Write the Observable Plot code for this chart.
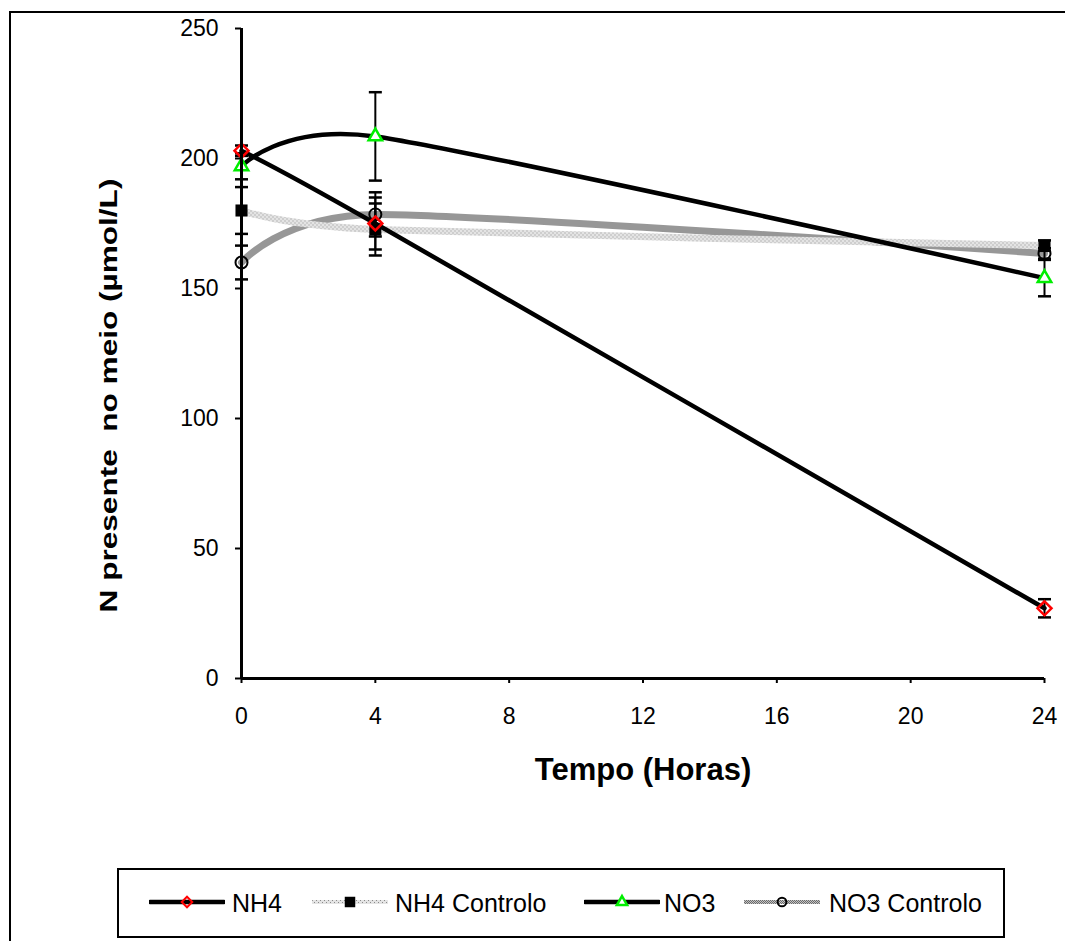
<!DOCTYPE html>
<html>
<head>
<meta charset="utf-8">
<script src="https://cdn.jsdelivr.net/npm/d3@7"></script>
<script src="https://cdn.jsdelivr.net/npm/@observablehq/plot@0.6"></script>
<style>
  html, body { margin: 0; padding: 0; background: #fff; }
  #wrap { position: relative; width: 1065px; height: 941px; overflow: hidden; font-family: Arial, "Liberation Sans", sans-serif; }
  #chart { position: absolute; left: 0; top: 0; }
  #frame { position: absolute; left: 9px; top: 11px; width: 1100px; height: 1000px; border-left: 2px solid #000; border-top: 2px solid #000; pointer-events: none; }
  #legend { position: absolute; left: 117px; top: 868px; width: 888px; height: 70px; border: 2px solid #000; box-sizing: border-box; background: #fff; }
  .sw { position: absolute; top: 22px; }
  .lt { position: absolute; top: 15px; font-size: 25px; line-height: 36px; color: #000; white-space: pre; }
</style>
</head>
<body>
<svg width="0" height="0" style="position:absolute">
  <defs>
    <pattern id="patLight" width="4" height="4" patternUnits="userSpaceOnUse">
      <rect width="4" height="4" fill="#e4e4e4"/>
      <rect x="0" y="0" width="1" height="1" fill="#8a8a8a"/>
      <rect x="2" y="2" width="1" height="1" fill="#8a8a8a"/>
    </pattern>
    <pattern id="patDark" width="2" height="2" patternUnits="userSpaceOnUse">
      <rect width="2" height="2" fill="#c4c4c4"/>
      <rect x="0" y="0" width="1" height="1" fill="#6a6a6a"/>
      <rect x="1" y="1" width="1" height="1" fill="#6a6a6a"/>
    </pattern>
  </defs>
</svg>
<div id="wrap">
  <div id="chart"></div>
  <div id="frame"></div>
  <div id="legend"></div>
</div>
<script>
// ---- data ----
const times = [0, 4, 24];
const seriesNames = ["NH4", "NH4 Controlo", "NO3", "NO3 Controlo"];
const nh4      = [203, 175, 27];
const nh4Err   = [2, 10, 3.5];
const nh4Ctrl  = [180, 172.7, 166.5];
const nh4CtrlErr = [9, 10, 2];
const no3      = [197, 208.5, 154];
const no3Err   = [5, 17, 7];
const no3Ctrl  = [160, 178.5, 163.5];
const no3CtrlErr = [6.5, 8.5, 2];
const xTicks = [0, 4, 8, 12, 16, 20, 24];
const yTicks = [0, 50, 100, 150, 200, 250];
const xLabel = "Tempo (Horas)";
const yLabel = "N presente  no meio (µmol/L)";

// ---- build table ----
const valuesBySeries = [nh4, nh4Ctrl, no3, no3Ctrl];
const errBySeries = [nh4Err, nh4CtrlErr, no3Err, no3CtrlErr];
const rows = [];
seriesNames.forEach((s, i) => times.forEach((t, j) => rows.push({
  series: s, t, v: valuesBySeries[i][j], e: errBySeries[i][j]
})));
const of = s => rows.filter(r => r.series === s);

const capSymbol = { draw(ctx) { ctx.moveTo(-6.5, 0); ctx.lineTo(6.5, 0); } };

const style = {
  NH4:            { line: "#000", w: 4.5 },
  "NH4 Controlo": { line: "url(#patLight)", w: 7 },
  NO3:            { line: "#000", w: 4.5 },
  "NO3 Controlo": { line: "url(#patDark)", w: 7 }
};

const marks = [];
["NO3 Controlo", "NH4 Controlo", "NO3", "NH4"].forEach(s => {
  marks.push(Plot.line(of(s), { x: "t", y: "v", curve: "cardinal", tension: 0.3, stroke: style[s].line, strokeWidth: style[s].w, strokeLinejoin: "round" }));
});
marks.push(Plot.ruleX(rows, { x: "t", y1: d => d.v - d.e, y2: d => d.v + d.e, stroke: "#000", strokeWidth: 2 }));
marks.push(Plot.dot(rows, { x: "t", y: d => d.v + d.e, symbol: capSymbol, r: 5, stroke: "#000", strokeWidth: 2.5, fill: "none" }));
marks.push(Plot.dot(rows, { x: "t", y: d => d.v - d.e, symbol: capSymbol, r: 5, stroke: "#000", strokeWidth: 2.5, fill: "none" }));
marks.push(Plot.dot(of("NO3 Controlo"), { x: "t", y: "v", symbol: "circle", r: 6, stroke: "#000", strokeWidth: 2, fill: "none" }));
marks.push(Plot.dot(of("NH4 Controlo"), { x: "t", y: "v", symbol: "square", r: 6.8, fill: "#000", stroke: "none" }));
marks.push(Plot.dot(of("NO3"), { x: "t", y: "v", symbol: "triangle", r: 5, stroke: "#00ee00", strokeWidth: 2.5, fill: "#fff" }));
marks.push(Plot.dot(of("NH4"), { x: "t", y: "v", symbol: "diamond2", r: 6.3, stroke: "#ff0000", strokeWidth: 2.5, fill: "none" }));
marks.push(Plot.axisY({ ticks: yTicks, tickSize: 6, tickPadding: 17, fontSize: 23, label: null, stroke: "#000", strokeWidth: 2 }));
marks.push(Plot.axisX({ ticks: xTicks, tickSize: 5, tickPadding: 24, fontSize: 23, label: null, stroke: "#000", strokeWidth: 2 }));
marks.push(Plot.ruleX([0], { stroke: "#000", strokeWidth: 3 }));
marks.push(Plot.ruleY([0], { stroke: "#000", strokeWidth: 3 }));
marks.push(Plot.text([xLabel], { text: d => d, frameAnchor: "bottom", dy: 92, fontSize: 31, fontWeight: "bold", lineAnchor: "middle" }));
marks.push(Plot.text([yLabel], { text: d => d, frameAnchor: "left", rotate: -90, fontSize: 23, fontWeight: "bold", lineAnchor: "middle", textAnchor: "middle" }));

const chart = Plot.plot({
  width: 1065,
  height: 860,
  marginLeft: 241,
  marginRight: 21,
  marginTop: 28,
  marginBottom: 182,
  style: { background: "transparent", fontFamily: "Arial, 'Liberation Sans', sans-serif", color: "#000", overflow: "visible" },
  x: { domain: [0, 24] },
  y: { domain: [0, 250] },
  marks
});
document.getElementById("chart").appendChild(chart);

// place and stretch the y title like the reference (centre ~113,395, length ~434)
chart.querySelectorAll("text").forEach(t => {
  if (t.textContent === yLabel) {
    t.style.whiteSpace = "pre";
    t.removeAttribute("x"); t.removeAttribute("y");
    const len = t.getComputedTextLength();
    const sx = len > 0 ? 434 / len : 1;
    t.setAttribute("text-anchor", "middle");
    t.setAttribute("transform", `translate(116,395) rotate(-90) scale(${sx},1)`);
  }
});

// ---- legend ----
const legendItems = [
  { name: seriesNames[0], lineX: 30, textX: 113, stroke: "#000", w: 4.5, marker: "diamond" },
  { name: seriesNames[1], lineX: 193, textX: 276, stroke: "url(#patLight)", w: 4, marker: "square" },
  { name: seriesNames[2], lineX: 465, textX: 545, stroke: "#000", w: 4.5, marker: "triangle" },
  { name: seriesNames[3], lineX: 625, textX: 710, stroke: "url(#patDark)", w: 4, marker: "circle" }
];
const leg = document.getElementById("legend");
const NS = "http://www.w3.org/2000/svg";
legendItems.forEach(it => {
  const svg = document.createElementNS(NS, "svg");
  svg.setAttribute("width", 76); svg.setAttribute("height", 20);
  svg.setAttribute("class", "sw");
  svg.style.left = it.lineX + "px";
  const ln = document.createElementNS(NS, "line");
  ln.setAttribute("x1", 1); ln.setAttribute("x2", 75); ln.setAttribute("y1", 10); ln.setAttribute("y2", 10);
  ln.setAttribute("stroke", it.stroke); ln.setAttribute("stroke-width", it.w); ln.setAttribute("stroke-linecap", "round");
  svg.appendChild(ln);
  const g = document.createElementNS(NS, "path");
  const sym = { diamond: d3.symbolDiamond2, square: d3.symbolSquare, triangle: d3.symbolTriangle, circle: d3.symbolCircle }[it.marker];
  const size = { diamond: 70, square: 110, triangle: 45, circle: 60 }[it.marker];
  g.setAttribute("d", d3.symbol(sym, size)());
  g.setAttribute("transform", "translate(38,10)");
  if (it.marker === "diamond") { g.setAttribute("fill", "none"); g.setAttribute("stroke", "#f00"); g.setAttribute("stroke-width", 2); }
  if (it.marker === "square") { g.setAttribute("fill", "#000"); }
  if (it.marker === "triangle") { g.setAttribute("fill", "#fff"); g.setAttribute("stroke", "#00ee00"); g.setAttribute("stroke-width", 2.5); }
  if (it.marker === "circle") { g.setAttribute("fill", "none"); g.setAttribute("stroke", "#000"); g.setAttribute("stroke-width", 2); }
  svg.appendChild(g);
  leg.appendChild(svg);
  const tx = document.createElement("div");
  tx.className = "lt"; tx.style.left = it.textX + "px"; tx.textContent = it.name;
  leg.appendChild(tx);
});
</script>
</body>
</html>
